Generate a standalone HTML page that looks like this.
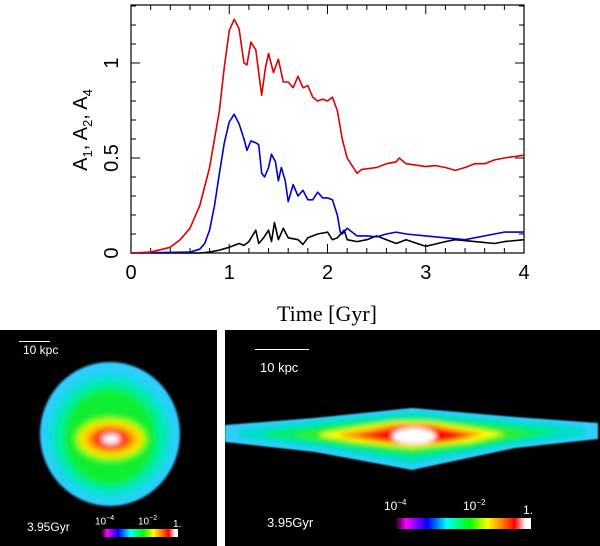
<!DOCTYPE html>
<html><head><meta charset="utf-8"><style>
body{margin:0;width:600px;height:546px;background:#fff;overflow:hidden;position:relative;font-family:"Liberation Sans",sans-serif}
.panel{position:absolute;background:#000;overflow:hidden}
.t{position:absolute;color:#fff;font-size:12px}
</style></head><body>
<svg id="chart" width="600" height="330" style="position:absolute;left:0;top:0"></svg>

<div class="panel" style="left:0;top:330px;width:217px;height:216px">
  <svg width="217" height="216" style="position:absolute;left:0;top:0">
    <defs><filter id="b1" x="-20%" y="-20%" width="140%" height="140%"><feGaussianBlur stdDeviation="3"/></filter>
    <filter id="b0"><feGaussianBlur stdDeviation="1"/></filter></defs>
    <ellipse cx="110" cy="104" rx="70" ry="72" fill="#3cf" filter="url(#b0)"/>
    <g filter="url(#b1)">
      <ellipse cx="110" cy="106" rx="63" ry="64" fill="#1dd"/>
      <ellipse cx="110" cy="106" rx="55" ry="55" fill="#0e9"/>
      <ellipse cx="110" cy="107" rx="46" ry="48" fill="#1e3"/>
      <ellipse cx="111" cy="109" rx="36" ry="22" fill="#8f0"/>
      <ellipse cx="111" cy="109" rx="32" ry="18" fill="#fd0"/>
      <ellipse cx="111" cy="109" rx="24" ry="13" fill="#f80"/>
      <ellipse cx="111" cy="109" rx="17" ry="10" fill="#f00"/>
      <ellipse cx="111" cy="109" rx="9" ry="5" fill="#fff"/>
    </g>
  </svg>
  <div style="position:absolute;left:19px;top:11px;width:31px;height:1px;background:#fff"></div>
  <div class="t" style="left:23px;top:13px">10 kpc</div>
  <div class="t" style="left:27px;top:190px">3.95Gyr</div>
  <div class="t" style="left:95px;top:185px;font-size:10px">10<sup style="font-size:7px">−4</sup></div>
  <div class="t" style="left:138px;top:185px;font-size:10px">10<sup style="font-size:7px">−2</sup></div>
  <div class="t" style="left:173px;top:189px;font-size:10px">1.</div>
  <div style="position:absolute;left:101px;top:199px;width:77px;height:8px;background:linear-gradient(90deg,#000,#f0f 8%,#00f 22%,#0ff 38%,#0f0 55%,#ff0 68%,#f80 78%,#f00 88%,#fff 96%)"></div>
</div>

<div class="panel" style="left:225px;top:330px;width:375px;height:216px">
  <svg width="375" height="216" style="position:absolute;left:0;top:0">
    <defs><filter id="b2" x="-10%" y="-30%" width="120%" height="160%"><feGaussianBlur stdDeviation="2.5"/></filter>
    <filter id="b3"><feGaussianBlur stdDeviation="0.8"/></filter></defs>
    <polygon points="0,95 90,88 187,78 290,87 373,93 373,109 290,118 187,140 90,122 0,112" fill="#3cf" filter="url(#b3)"/>
    <g filter="url(#b2)">
      <polygon points="14,99 100,90 187,82 280,90 360,97 360,106 280,116 187,135 100,119 14,108" fill="#0dc"/>
      <polygon points="40,102 110,93 187,86 270,93 338,101 270,115 187,128 110,116 40,106" fill="#0e6"/>
      <polygon points="70,104 120,96 160,91 210,91 260,96 305,103 260,113 187,122 120,114 70,106" fill="#3e2"/>
      <polygon points="95,104 130,98 170,92 205,92 245,98 280,104 245,112 187,118 130,112 95,106" fill="#ff0"/>
      <polygon points="115,104 145,99 170,94 205,94 230,99 260,104 230,111 187,116 145,111 115,106" fill="#f80"/>
      <polygon points="135,105 160,100 178,97 200,97 220,100 245,105 220,111 187,113 160,110 135,106" fill="#f00"/>
      <ellipse cx="189" cy="106" rx="22" ry="8" fill="#fff"/>
    </g>
  </svg>
  <div style="position:absolute;left:30px;top:19px;width:54px;height:1px;background:#fff"></div>
  <div class="t" style="left:35px;top:30px;font-size:13px">10 kpc</div>
  <div class="t" style="left:42px;top:185px;font-size:13px">3.95Gyr</div>
  <div class="t" style="left:159px;top:168px;font-size:12px">10<sup style="font-size:8px">−4</sup></div>
  <div class="t" style="left:238px;top:168px;font-size:12px">10<sup style="font-size:8px">−2</sup></div>
  <div class="t" style="left:298px;top:173px;font-size:12px">1.</div>
  <div style="position:absolute;left:170px;top:188px;width:136px;height:11px;background:linear-gradient(90deg,#000,#f0f 8%,#00f 24%,#0ff 38%,#0f0 55%,#ff0 68%,#f80 78%,#f00 88%,#fff 96%)"></div>
</div>

<script>
const redT=[0,0.2,0.4,0.5,0.6,0.7,0.8,0.9,0.95,1.0,1.05,1.1,1.15,1.18,1.22,1.27,1.3,1.33,1.37,1.4,1.45,1.5,1.55,1.6,1.65,1.7,1.75,1.8,1.85,1.9,1.95,2.0,2.05,2.1,2.15,2.2,2.25,2.3,2.35,2.5,2.6,2.7,2.73,2.8,3.0,3.1,3.2,3.3,3.4,3.5,3.6,3.7,3.8,4.0];
const redA=[0,0.005,0.03,0.07,0.13,0.25,0.45,0.75,0.98,1.17,1.23,1.18,1.0,0.99,1.11,1.07,0.95,0.83,0.98,1.05,0.95,1.02,0.9,0.9,0.87,0.93,0.87,0.88,0.82,0.8,0.81,0.8,0.82,0.75,0.6,0.5,0.46,0.42,0.44,0.45,0.47,0.48,0.5,0.47,0.455,0.46,0.45,0.435,0.45,0.47,0.47,0.49,0.5,0.515];
const blueT=[0,0.6,0.7,0.75,0.8,0.85,0.9,0.95,1.0,1.05,1.1,1.15,1.18,1.22,1.27,1.3,1.33,1.36,1.4,1.43,1.47,1.5,1.53,1.57,1.6,1.65,1.7,1.75,1.8,1.85,1.9,1.95,2.0,2.05,2.1,2.13,2.15,2.2,2.3,2.4,2.5,2.6,2.7,2.8,3.0,3.2,3.4,3.6,3.8,4.0];
const blueA=[0,0.005,0.02,0.05,0.12,0.25,0.42,0.58,0.69,0.73,0.68,0.6,0.54,0.59,0.58,0.57,0.42,0.4,0.45,0.52,0.48,0.38,0.45,0.38,0.27,0.36,0.3,0.33,0.28,0.28,0.32,0.29,0.29,0.28,0.2,0.11,0.1,0.13,0.09,0.09,0.085,0.1,0.11,0.1,0.09,0.08,0.07,0.09,0.11,0.11];
const blackT=[0,0.7,0.8,0.9,1.0,1.1,1.15,1.2,1.27,1.3,1.35,1.4,1.43,1.46,1.5,1.55,1.6,1.7,1.75,1.8,1.9,2.0,2.05,2.1,2.17,2.2,2.3,2.4,2.5,2.6,2.7,2.8,3.0,3.2,3.3,3.5,3.7,3.8,4.0];
const blackA=[0,0,0.005,0.015,0.03,0.05,0.04,0.06,0.12,0.05,0.08,0.12,0.06,0.16,0.07,0.13,0.08,0.07,0.045,0.08,0.1,0.11,0.07,0.08,0.12,0.07,0.06,0.07,0.09,0.07,0.05,0.07,0.035,0.06,0.07,0.06,0.05,0.06,0.07];
const xTicks=[0,1,2,3,4];
const yTicks=[0,0.5,1];
const yTickLabels=["0","0.5","1"];

const NS="http://www.w3.org/2000/svg";
const svg=document.getElementById('chart');
const X0=131,X1=524,Y0=253,YT=5;
const sx=v=>X0+(X1-X0)*v/4;
const sy=v=>Y0-190*v;
function mk(tag,attrs){const e=document.createElementNS(NS,tag);for(const k in attrs)e.setAttribute(k,attrs[k]);svg.appendChild(e);return e;}
const frame=mk('rect',{x:X0,y:YT,width:X1-X0,height:Y0-YT,fill:'none',stroke:'#000','stroke-width':1.2});


for(let i=0;i<=20;i++){const v=i*0.2,x=sx(v),L=(i%5==0)?9:5;
 const t=mk('path',{d:`M${x},${Y0}v${-L}M${x},${YT}v${L}`,stroke:'#000','stroke-width':1});
 
 }
for(let i=0;i<=13;i++){const v=i*0.1,y=sy(v);if(y<YT)continue;const L=(i%5==0)?9:5;
 const t=mk('path',{d:`M${X0},${y}h${L}M${X1},${y}h${-L}`,stroke:'#000','stroke-width':1});
 
 }
xTicks.forEach(v=>{const t=mk('text',{x:sx(v),y:279,'text-anchor':'middle','font-size':20,'font-family':'Liberation Sans, sans-serif'});t.textContent=String(v);
 
 });
yTicks.forEach((v,i)=>{const y=sy(v);const t=mk('text',{x:0,y:0,transform:`translate(118,${y}) rotate(-90)`,'text-anchor':'middle','font-size':20,'font-family':'Liberation Sans, sans-serif'});t.textContent=yTickLabels[i];
 
 });
function line(T,A,c,n){const p=mk('polyline',{points:T.map((t,i)=>sx(t)+','+sy(A[i])).join(' '),fill:'none',stroke:c,'stroke-width':1.6,'stroke-linejoin':'round'});
 
 }
line(blackT,blackA,'#000','a4-line');
line(blueT,blueA,'#0000d0','a2-line');
line(redT,redA,'#e00000','a1-line');
const yl=mk('text',{x:0,y:0,transform:'translate(87,130) rotate(-90)','text-anchor':'middle','font-size':20,'font-family':'Liberation Sans, sans-serif'});
yl.innerHTML='A<tspan font-size="13" dy="5">1</tspan><tspan dy="-5">, A</tspan><tspan font-size="13" dy="5">2</tspan><tspan dy="-5">, A</tspan><tspan font-size="13" dy="5">4</tspan>';


const xl=mk('text',{x:327,y:321,'text-anchor':'middle','font-size':22,'font-family':'Liberation Serif, serif'});
xl.textContent='Time [Gyr]';


</script>
</body></html>
